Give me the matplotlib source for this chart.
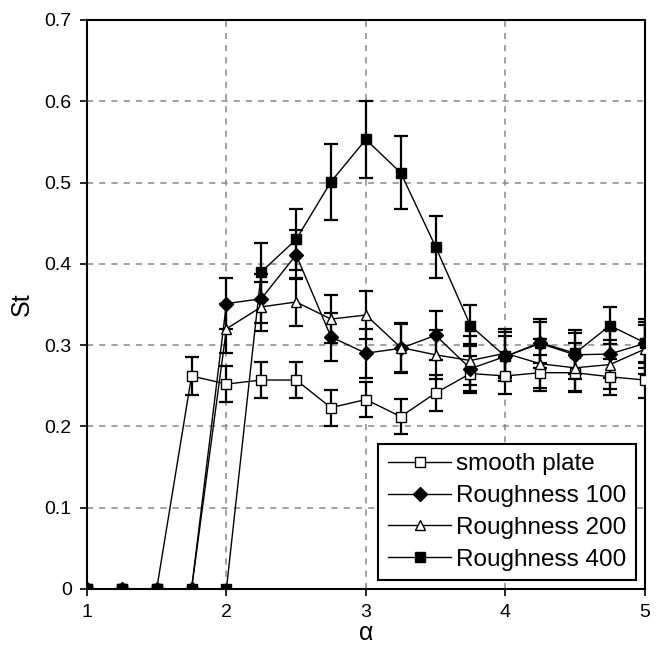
import matplotlib
matplotlib.use("Agg")
import matplotlib.pyplot as plt
import numpy as np

plt.rcParams['font.family'] = ['Liberation Sans', 'DejaVu Sans']

alpha = [1.0, 1.25, 1.5, 1.75, 2.0, 2.25, 2.5, 2.75, 3.0, 3.25, 3.5, 3.75, 4.0, 4.25, 4.5, 4.75, 5.0]

# St values
st_smooth = [0, 0, 0, 0.262, 0.252, 0.257, 0.257, 0.223, 0.233, 0.212, 0.241, 0.265, 0.262, 0.266, 0.266, 0.261, 0.257]
st_r100 = [0, 0, 0, 0, 0.351, 0.357, 0.411, 0.31, 0.29, 0.296, 0.312, 0.271, 0.286, 0.302, 0.288, 0.289, 0.302]
st_r200 = [0, 0, 0, 0, 0.32, 0.347, 0.353, 0.332, 0.337, 0.297, 0.288, 0.281, 0.29, 0.277, 0.272, 0.276, 0.295]
st_r400 = [0, 0, 0, 0, 0, 0.39, 0.43, 0.501, 0.553, 0.512, 0.421, 0.324, 0.286, 0.303, 0.29, 0.324, 0.303]

# error bar half-heights (0 = no bar drawn)
err_smooth = [0, 0, 0, 0.023, 0.022, 0.022, 0.022, 0.022, 0.022, 0.022, 0.022, 0.022, 0.022, 0.022, 0.022, 0.022, 0.022]
err_r100 = [0, 0, 0, 0, 0.031, 0.03, 0.03, 0.03, 0.03, 0.03, 0.03, 0.03, 0.03, 0.03, 0.03, 0.03, 0.03]
err_r200 = [0, 0, 0, 0, 0.03, 0.03, 0.03, 0.03, 0.03, 0.03, 0.03, 0.03, 0.03, 0.03, 0.03, 0.03, 0.03]
err_r400 = [0, 0, 0, 0, 0, 0.035, 0.038, 0.047, 0.047, 0.045, 0.038, 0.025, 0.025, 0.025, 0.025, 0.023, 0.025]

fig = plt.figure(figsize=(6.64, 6.45), dpi=100)
ax = fig.add_axes([0.131, 0.087, 0.84, 0.882])

series = [
    ('smooth plate', st_smooth, err_smooth, 's', 'white', 6.5),
    ('Roughness 100', st_r100, err_r100, 'D', 'black', 7),
    ('Roughness 200', st_r200, err_r200, '^', 'white', 7),
    ('Roughness 400', st_r400, err_r400, 's', 'black', 7),
]

handles = []
for label, y, e, m, fc, ms in series:
    x = np.array(alpha)
    y = np.array(y)
    e = np.array(e)
    keep = e > 0
    ax.errorbar(x[keep], y[keep], yerr=e[keep], fmt='none', ecolor='black',
                elinewidth=1.6, capsize=5, capthick=1.6, zorder=2)
    ln, = ax.plot(x, y, color='black', lw=1, marker=m, ms=ms, mfc=fc,
                  mec='black', mew=1, label=label, zorder=3)
    handles.append(ln)

ax.set_xlim(1, 5)
ax.set_ylim(0, 0.7)
ax.set_xticks([1, 2, 3, 4, 5])
ax.set_yticks([0, 0.1, 0.2, 0.3, 0.4, 0.5, 0.6, 0.7])
ax.set_yticklabels(['0', '0.1', '0.2', '0.3', '0.4', '0.5', '0.6', '0.7'])
ax.tick_params(direction='out', length=5, width=1.2, labelsize=14, pad=6)
ax.grid(True, color='#888888', ls=(0, (4, 4)), lw=1.1)
for s in ax.spines.values():
    s.set_linewidth(1.5)

ax.set_xlabel('α', fontsize=18, labelpad=0)
ax.set_ylabel('St', fontsize=18, labelpad=8)

leg = ax.legend(handles=handles, loc='lower right', fontsize=17.5, frameon=True,
                fancybox=False, edgecolor='black', framealpha=1,
                handlelength=2.6, borderaxespad=0.35, labelspacing=0.4,
                handletextpad=0.2, borderpad=0.4)
leg.get_frame().set_linewidth(1.5)

fig.savefig('out.png', dpi=100)
